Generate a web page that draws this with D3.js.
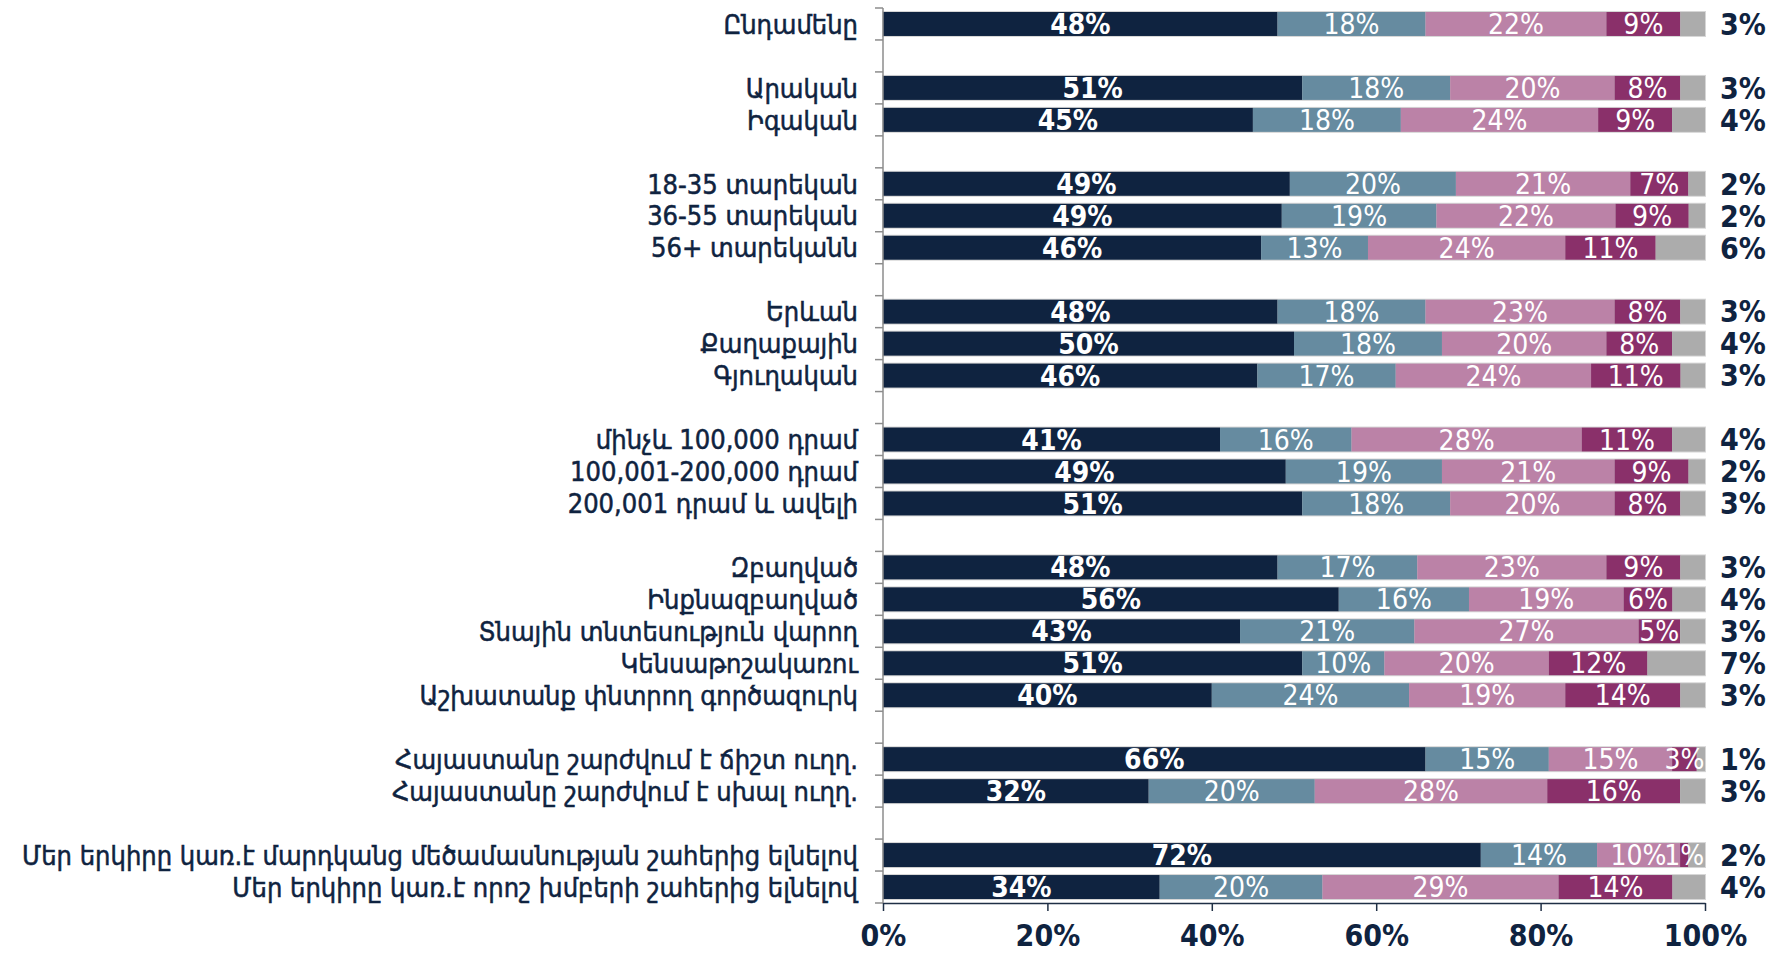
<!DOCTYPE html>
<html>
<head>
<meta charset="utf-8">
<script src="https://cdnjs.cloudflare.com/ajax/libs/d3/7.8.5/d3.min.js"></script>
<style>
  html, body { margin: 0; padding: 0; background: #ffffff; }
  svg { display: block; }
</style>
</head>
<body>
<svg id="chart" width="1777" height="958"></svg>
<script>
// ---- data (empty strings are spacer rows between groups) ----
const categories = [
  "Ընդամենը", "",
  "Արական", "Իգական", "",
  "18-35 տարեկան", "36-55 տարեկան", "56+ տարեկանն", "",
  "Երևան", "Քաղաքային", "Գյուղական", "",
  "մինչև 100,000 դրամ", "100,001-200,000 դրամ ", "200,001 դրամ և ավելի ", "",
  "Զբաղված", "Ինքնազբաղված", "Տնային տնտեսություն վարող", "Կենսաթոշակառու", "Աշխատանք փնտրող գործազուրկ", "",
  "Հայաստանը շարժվում է ճիշտ ուղղ.", "Հայաստանը շարժվում է սխալ ուղղ.", "",
  "Մեր երկիրը կառ.է մարդկանց մեծամասնության շահերից ելնելով", "Մեր երկիրը կառ.է որոշ խմբերի շահերից ելնելով"
];
const series1 = [48,null,51,45,null,49,49,46,null,48,50,46,null,41,49,51,null,48,56,43,51,40,null,66,32,null,72,34];
const series2 = [18,null,18,18,null,20,19,13,null,18,18,17,null,16,19,18,null,17,16,21,10,24,null,15,20,null,14,20];
const series3 = [22,null,20,24,null,21,22,24,null,23,20,24,null,28,21,20,null,23,19,27,20,19,null,15,28,null,10,29];
const series4 = [9,null,8,9,null,7,9,11,null,8,8,11,null,11,9,8,null,9,6,5,12,14,null,3,16,null,1,14];
const series5 = [3,null,3,4,null,2,2,6,null,3,4,3,null,4,2,3,null,3,4,3,7,3,null,1,3,null,2,4];
const xTicks = [0, 0.2, 0.4, 0.6, 0.8, 1];
const colors = ["#0f2340", "#668ba0", "#bb82a7", "#8a306a", "#acacac"];

// ---- build rows ----
const keys = ["s1","s2","s3","s4","s5"];
const rows = categories.map((c, i) => ({
  idx: i, label: c,
  s1: series1[i], s2: series2[i], s3: series3[i], s4: series4[i], s5: series5[i]
}));
const dataRows = rows.filter(r => r.s1 !== null);

const svg = d3.select("#chart");
const margin = {left: 883, right: 72, top: 8, bottom: 55};
const W = 1777, H = 958;
const x = d3.scaleLinear().domain([0, 1]).range([margin.left, W - margin.right]);
const y = d3.scaleBand().domain(rows.map(r => r.idx))
  .range([margin.top, H - margin.bottom]).paddingInner(0.25).paddingOuter(0.125);

const stack = d3.stack().keys(keys).offset(d3.stackOffsetExpand);
const stacked = stack(dataRows);

const labelFont = "'DejaVu Sans Condensed', 'DejaVu Sans', sans-serif";
const numFont = "'Liberation Sans Narrow', 'DejaVu Sans Condensed', sans-serif";

// bar outline (light grey border around full bar)
svg.append("g").selectAll("rect").data(dataRows).join("rect")
  .attr("x", x(0) - 1)
  .attr("y", d => y(d.idx) - 1)
  .attr("width", x(1) - x(0) + 2)
  .attr("height", y.bandwidth() + 2)
  .attr("fill", "#d6d6d6");

// segments
const layers = svg.append("g").selectAll("g").data(stacked).join("g")
  .attr("fill", (d, i) => colors[i]);
layers.selectAll("rect").data(d => d).join("rect")
  .attr("x", d => x(d[0]))
  .attr("y", d => y(d.data.idx))
  .attr("width", d => x(d[1]) - x(d[0]))
  .attr("height", y.bandwidth());

// in-bar labels (first 4 series)
stacked.slice(0, 4).forEach((layer, li) => {
  svg.append("g").selectAll("text").data(layer).join("text")
    .attr("x", d => (x(d[0]) + x(d[1])) / 2)
    .attr("y", d => y(d.data.idx) + y.bandwidth() / 2)
    .attr("dy", "0.36em")
    .attr("text-anchor", "middle")
    .attr("fill", "#ffffff")
    .attr("font-family", numFont)
    .attr("font-weight", li === 0 ? "bold" : "normal")
    .attr("font-size", 28)
    .text(d => d.data[keys[li]] + "%");
});

// right-hand labels (last series)
svg.append("g").selectAll("text").data(dataRows).join("text")
  .attr("x", x(1) + 15)
  .attr("y", d => y(d.idx) + y.bandwidth() / 2)
  .attr("dy", "0.36em")
  .attr("fill", "#0f2340")
  .attr("font-family", numFont)
  .attr("font-weight", "bold")
  .attr("font-size", 30)
  .text(d => d.s5 + "%");

// y axis: line + ticks at band boundaries
const yAxisG = svg.append("g");
const step = y.step();
const bounds = rows.map(r => y(r.idx) - step * 0.125).concat([y(rows[rows.length-1].idx) + y.bandwidth() + step * 0.125]);
yAxisG.append("line")
  .attr("x1", x(0)).attr("x2", x(0))
  .attr("y1", bounds[0]).attr("y2", bounds[bounds.length - 1])
  .attr("stroke", "#8c8c8c").attr("stroke-width", 1.5);
yAxisG.selectAll("line.t").data(bounds).join("line").attr("class", "t")
  .attr("x1", x(0) - 8).attr("x2", x(0))
  .attr("y1", d => d).attr("y2", d => d)
  .attr("stroke", "#8c8c8c").attr("stroke-width", 1.5);

// category labels
svg.append("g").selectAll("text").data(dataRows).join("text")
  .attr("x", x(0) - 25)
  .attr("y", d => y(d.idx) + y.bandwidth() / 2)
  .attr("dy", "0.36em")
  .attr("text-anchor", "end")
  .attr("fill", "#0f2340")
  .attr("stroke", "#0f2340")
  .attr("stroke-width", 0.5)
  .attr("font-family", labelFont)
  .attr("font-size", 27)
  .text(d => d.label);

// x axis
const xAxis = d3.axisBottom(x).tickValues(xTicks).tickFormat(d3.format(".0%")).tickSize(8).tickSizeOuter(0);
const xg = svg.append("g")
  .attr("transform", `translate(0,${bounds[bounds.length - 1]})`)
  .call(xAxis);
xg.select(".domain").attr("stroke", "#1f2f45").attr("stroke-width", 1.5);
xg.selectAll(".tick line").attr("stroke", "#1f2f45").attr("stroke-width", 1.5);
xg.selectAll(".tick text")
  .attr("fill", "#0f2340")
  .attr("font-family", numFont)
  .attr("font-weight", "bold")
  .attr("font-size", 30)
  .attr("dy", "1.05em");
</script>
</body>
</html>
